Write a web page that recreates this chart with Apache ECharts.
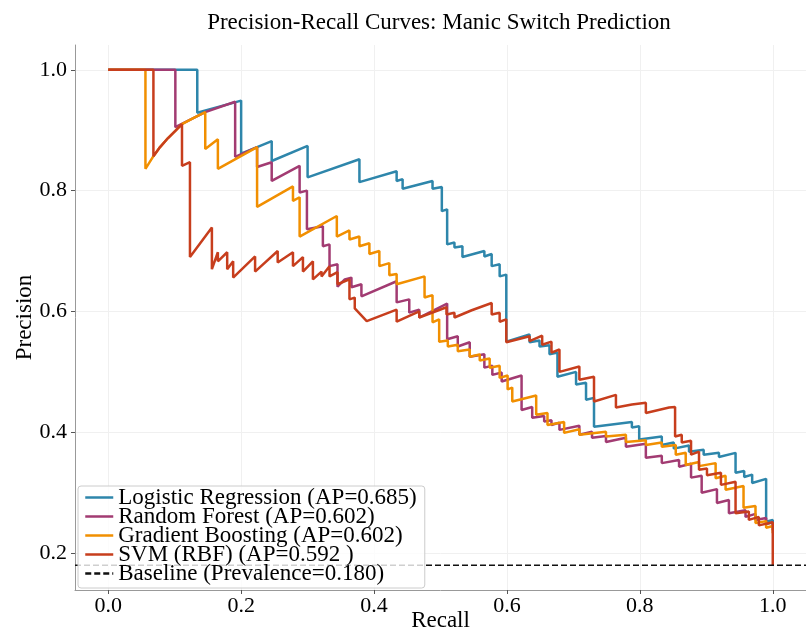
<!DOCTYPE html>
<html>
<head>
<meta charset="utf-8">
<script src="https://cdn.jsdelivr.net/npm/echarts@6/dist/echarts.min.js"></script>
<style>
  html, body { margin: 0; padding: 0; background: #fff; }
  #chart { width: 806px; height: 633px; }
</style>
</head>
<body>
<div id="chart"></div>
<script>
// tick positions
const xTicks = [0, 0.2, 0.4, 0.6, 0.8, 1.0];
const yTicks = [0.2, 0.4, 0.6, 0.8, 1.0];
const prevalence = 0.18;

// [recall, precision] pairs
const lrCurve = [[0,1],[0.134,1],[0.134,0.929],[0.2,0.949],[0.2,0.861],[0.224,0.872],[0.246,0.882],[0.246,0.849],[0.3,0.874],[0.3,0.822],[0.378,0.852],[0.378,0.814],[0.434,0.832],[0.434,0.816],[0.443,0.819],[0.443,0.803],[0.488,0.816],[0.488,0.803],[0.502,0.806],[0.502,0.766],[0.51,0.769],[0.51,0.711],[0.521,0.714],[0.521,0.706],[0.533,0.708],[0.533,0.69],[0.566,0.70],[0.566,0.691],[0.577,0.695],[0.577,0.675],[0.589,0.678],[0.589,0.658],[0.599,0.661],[0.599,0.55],[0.634,0.562],[0.634,0.549],[0.649,0.552],[0.649,0.542],[0.664,0.544],[0.664,0.529],[0.676,0.532],[0.676,0.492],[0.704,0.50],[0.704,0.479],[0.719,0.482],[0.719,0.454],[0.731,0.457],[0.731,0.409],[0.788,0.417],[0.788,0.408],[0.799,0.41],[0.799,0.388],[0.833,0.393],[0.833,0.379],[0.851,0.383],[0.851,0.373],[0.874,0.378],[0.874,0.368],[0.896,0.371],[0.896,0.363],[0.919,0.366],[0.919,0.359],[0.944,0.366],[0.944,0.333],[0.957,0.336],[0.957,0.326],[0.969,0.33],[0.969,0.316],[0.99,0.323],[0.99,0.252],[1.0,0.255],[1.0,0.243]];

const rfCurve = [[0,1],[0.101,1],[0.101,0.905],[0.146,0.93],[0.191,0.947],[0.191,0.856],[0.224,0.872],[0.224,0.839],[0.246,0.847],[0.246,0.816],[0.288,0.841],[0.288,0.797],[0.299,0.80],[0.299,0.736],[0.323,0.741],[0.323,0.708],[0.333,0.711],[0.333,0.675],[0.345,0.678],[0.345,0.641],[0.356,0.653],[0.366,0.656],[0.366,0.64],[0.381,0.645],[0.381,0.625],[0.434,0.65],[0.434,0.615],[0.453,0.62],[0.453,0.598],[0.468,0.603],[0.468,0.59],[0.51,0.613],[0.51,0.554],[0.526,0.559],[0.526,0.542],[0.544,0.549],[0.544,0.525],[0.566,0.529],[0.566,0.507],[0.578,0.51],[0.578,0.495],[0.592,0.499],[0.592,0.484],[0.622,0.494],[0.622,0.437],[0.638,0.442],[0.638,0.424],[0.656,0.427],[0.656,0.418],[0.667,0.42],[0.667,0.412],[0.679,0.416],[0.679,0.404],[0.709,0.411],[0.709,0.396],[0.728,0.401],[0.728,0.391],[0.749,0.394],[0.749,0.384],[0.779,0.391],[0.779,0.376],[0.809,0.381],[0.809,0.358],[0.833,0.361],[0.833,0.349],[0.859,0.354],[0.859,0.343],[0.877,0.348],[0.877,0.325],[0.893,0.328],[0.893,0.30],[0.916,0.306],[0.916,0.283],[0.934,0.288],[0.934,0.266],[0.959,0.271],[0.959,0.26],[0.974,0.265],[0.974,0.255],[0.99,0.258],[0.99,0.248],[1.0,0.251],[1.0,0.238]];

const gbCurve = [[0,1],[0.056,1],[0.056,0.836],[0.068,0.857],[0.078,0.872],[0.09,0.887],[0.101,0.899],[0.111,0.91],[0.128,0.92],[0.146,0.93],[0.146,0.869],[0.165,0.885],[0.165,0.836],[0.224,0.872],[0.224,0.773],[0.278,0.807],[0.278,0.783],[0.288,0.789],[0.288,0.724],[0.344,0.758],[0.344,0.724],[0.363,0.734],[0.363,0.719],[0.378,0.724],[0.378,0.708],[0.393,0.713],[0.393,0.695],[0.408,0.70],[0.408,0.675],[0.423,0.68],[0.423,0.66],[0.434,0.662],[0.434,0.645],[0.476,0.658],[0.476,0.623],[0.488,0.627],[0.488,0.582],[0.498,0.587],[0.498,0.55],[0.511,0.552],[0.511,0.542],[0.526,0.545],[0.526,0.534],[0.544,0.537],[0.544,0.525],[0.559,0.529],[0.559,0.519],[0.574,0.522],[0.574,0.507],[0.589,0.51],[0.589,0.49],[0.601,0.494],[0.601,0.471],[0.608,0.474],[0.608,0.451],[0.644,0.461],[0.644,0.429],[0.661,0.432],[0.661,0.412],[0.686,0.417],[0.686,0.399],[0.709,0.405],[0.709,0.396],[0.749,0.401],[0.749,0.393],[0.779,0.396],[0.779,0.384],[0.809,0.387],[0.809,0.379],[0.833,0.383],[0.833,0.376],[0.854,0.379],[0.854,0.363],[0.869,0.366],[0.869,0.346],[0.889,0.351],[0.889,0.344],[0.914,0.349],[0.914,0.324],[0.929,0.328],[0.929,0.305],[0.956,0.311],[0.956,0.275],[0.974,0.278],[0.974,0.25],[0.99,0.253],[0.99,0.242],[1.0,0.245],[1.0,0.233]];

const svmCurve = [[0,1],[0.068,1],[0.068,0.857],[0.078,0.872],[0.09,0.887],[0.101,0.899],[0.111,0.91],[0.111,0.841],[0.123,0.847],[0.123,0.69],[0.156,0.739],[0.156,0.67],[0.165,0.698],[0.165,0.683],[0.179,0.698],[0.179,0.67],[0.188,0.683],[0.188,0.656],[0.221,0.691],[0.221,0.666],[0.255,0.70],[0.255,0.681],[0.278,0.698],[0.278,0.675],[0.293,0.69],[0.293,0.666],[0.308,0.683],[0.308,0.653],[0.321,0.666],[0.321,0.658],[0.333,0.675],[0.333,0.658],[0.345,0.665],[0.345,0.645],[0.363,0.653],[0.363,0.62],[0.371,0.623],[0.371,0.605],[0.389,0.584],[0.434,0.603],[0.434,0.583],[0.468,0.60],[0.468,0.59],[0.509,0.607],[0.509,0.595],[0.521,0.598],[0.521,0.59],[0.547,0.602],[0.577,0.614],[0.577,0.595],[0.589,0.598],[0.589,0.583],[0.599,0.587],[0.599,0.549],[0.634,0.559],[0.634,0.551],[0.653,0.56],[0.653,0.545],[0.667,0.55],[0.667,0.532],[0.679,0.537],[0.679,0.50],[0.709,0.509],[0.709,0.487],[0.731,0.492],[0.731,0.451],[0.764,0.462],[0.764,0.441],[0.788,0.446],[0.809,0.449],[0.809,0.432],[0.844,0.441],[0.853,0.442],[0.853,0.393],[0.863,0.396],[0.863,0.383],[0.877,0.386],[0.877,0.363],[0.889,0.368],[0.889,0.338],[0.901,0.34],[0.901,0.329],[0.922,0.333],[0.922,0.313],[0.944,0.318],[0.944,0.266],[0.964,0.269],[0.964,0.255],[0.979,0.26],[0.979,0.246],[1.0,0.251],[1.0,0.18]];

const modelNames = ['Logistic Regression (AP=0.685)', 'Random Forest (AP=0.602)', 'Gradient Boosting (AP=0.602)', 'SVM (RBF) (AP=0.592 )'];
const modelColors = ['#2E86AB', '#A23B72', '#F18F01', '#C73E1D'];
const baselineName = 'Baseline (Prevalence=0.180)';

const X_MIN = -0.05, X_MAX = 1.05;
const Y_MIN = 0.139, Y_MAX = 1.041;
const FONT = "'Liberation Serif', 'Times New Roman', serif";

const chart = echarts.init(document.getElementById('chart'));

const curves = [lrCurve, rfCurve, gbCurve, svmCurve];
const series = curves.map((c, i) => ({
    name: modelNames[i],
    type: 'line',
    data: c,
    symbol: 'none',
    color: modelColors[i],
    lineStyle: { width: 2.5, color: modelColors[i] },
    z: 3 + i
}));
series.push({
    name: baselineName,
    type: 'line',
    data: [[X_MIN, prevalence], [X_MAX, prevalence]],
    symbol: 'none',
    color: '#111',
    lineStyle: { width: 1.5, type: [6, 3], color: '#111' },
    z: 8
});

chart.setOption({
    animation: false,
    backgroundColor: '#fff',
    title: {
        text: 'Precision-Recall Curves: Manic Switch Prediction',
        left: 434,
        top: 6,
        textAlign: 'center',
        textStyle: { fontFamily: FONT, fontSize: 23, fontWeight: 'normal', color: '#000' }
    },
    grid: { left: 75, right: 0, top: 45, bottom: 43, containLabel: false, outerBoundsMode: 'none' },
    legend: {
        orient: 'vertical',
        left: 78,
        top: 486,
        data: modelNames.concat([baselineName]),
        itemWidth: 28,
        itemHeight: 12,
        itemGap: -4,
        padding: [0, 8, 3, 6],
        backgroundColor: 'rgba(255,255,255,0.8)',
        borderColor: '#cccccc',
        borderWidth: 1,
        borderRadius: 3,
        z: 10,
        itemStyle: { opacity: 0 },
        lineStyle: { width: 2.5 },
        textStyle: { fontFamily: FONT, fontSize: 23, color: '#000' }
    },
    xAxis: {
        type: 'value',
        min: X_MIN,
        max: X_MAX,
        name: 'Recall',
        nameLocation: 'middle',
        nameGap: 19,
        nameMoveOverlap: false,
        nameTextStyle: { fontFamily: FONT, fontSize: 23, color: '#000', verticalAlign: 'top' },
        axisLine: { onZero: false, lineStyle: { color: '#999', width: 1 } },
        axisTick: { show: true, length: 4, customValues: xTicks, lineStyle: { color: '#555' } },
        axisLabel: {
            customValues: xTicks,
            margin: 5,
            fontFamily: FONT, fontSize: 22, color: '#000',
            formatter: v => v.toFixed(1)
        },
        splitLine: { show: true, lineStyle: { color: '#f0f0f0', width: 1 } }
    },
    yAxis: {
        type: 'value',
        min: Y_MIN,
        max: Y_MAX,
        name: 'Precision',
        nameLocation: 'middle',
        nameGap: 50,
        nameMoveOverlap: false,
        nameTextStyle: { fontFamily: FONT, fontSize: 23, color: '#000', verticalAlign: 'middle' },
        axisLine: { show: true, onZero: false, lineStyle: { color: '#999', width: 1 } },
        axisTick: { show: true, length: 4, customValues: yTicks, lineStyle: { color: '#555' } },
        axisLabel: {
            customValues: yTicks,
            margin: 8,
            fontFamily: FONT, fontSize: 22, color: '#000',
            formatter: v => v.toFixed(1)
        },
        splitLine: { show: true, lineStyle: { color: '#f0f0f0', width: 1 } }
    },
    series: series
});
</script>
</body>
</html>
